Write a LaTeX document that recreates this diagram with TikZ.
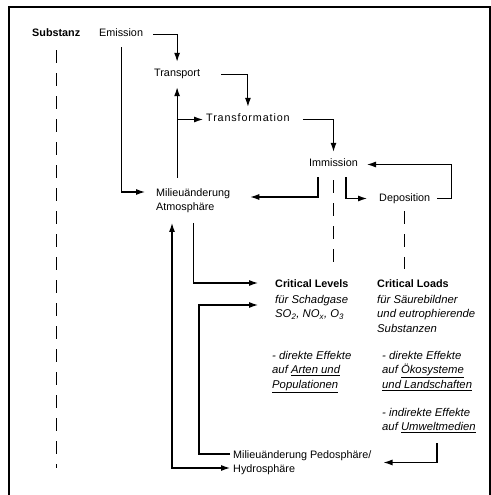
\documentclass[tikz,border=0pt]{standalone}
\usepackage{fontspec}
\setmainfont{Liberation Sans}
\usepackage{tikz}
\usetikzlibrary{arrows.meta}
\newcommand{\diagfont}{\fontsize{10.8bp}{14.5bp}\selectfont}
\newcommand{\diagitfont}{\fontsize{11.3bp}{14.5bp}\selectfont\itshape}

\begin{document}
\begin{tikzpicture}[x=1bp, y=-1bp,
    font=\diagfont,
    txt/.style={inner xsep=3bp, inner ysep=7bp, text height=8bp, text depth=3bp, anchor=base west},
    blk/.style={inner xsep=3bp, inner ysep=10bp, align=left, anchor=north west},
    arr/.style={-{Latex[length=9bp, width=6bp]}, line width=1.1bp},
    arrs/.style={{Latex[length=9bp, width=6bp]}-{Latex[length=9bp, width=6bp]}, line width=1.1bp},
    dsh/.style={dash pattern=on 13bp off 10bp, line width=1.1bp}
  ]
  \useasboundingbox (0,0) rectangle (491,495);
  \draw[line width=1.1bp] (9,495) -- (9,7) -- (490,7) -- (490,495);

  \node[txt, font=\diagfont\bfseries] (subst) at (29,37) {Substanz};
  \node[txt] (emis) at (96,37) {Emission};
  \node[txt] (transp) at (151,77) {Transport};
  \node[txt, font=\diagfont\addfontfeature{LetterSpace=8}] (transf) at (203,122) {Transformation};
  \node[txt] (immi) at (306,167) {Immission};
  \node[txt] (depo) at (376,201) {Deposition};
  \node[blk] (atmo) at (153,178) {Milieuänderung\\Atmosphäre};
  \node[blk] (crl) at (272,269) {\textbf{Critical Levels}\\[1.5bp]
    {\diagitfont für Schadgase}\\
    {\diagitfont SO\textsubscript{2}, NO\textsubscript{x}, O\textsubscript{3}}};
  \node[blk] (cld) at (374,269) {\textbf{Critical Loads}\\[1.5bp]
    {\diagitfont für Säurebildner}\\
    {\diagitfont und eutrophierende}\\
    {\diagitfont Substanzen}};
  \node[blk, font=\diagitfont] (eff1) at (269,341) {- direkte Effekte\\auf \underline{Arten und}\\\underline{Populationen}};
  \node[blk, font=\diagitfont] (eff2) at (379,341) {- direkte Effekte\\auf \underline{Ökosysteme}\\\underline{und Landschaften}};
  \node[blk, font=\diagitfont] (eff3) at (379,398) {- indirekte Effekte\\auf \underline{Umweltmedien}};
  \node[blk] (pedo) at (230,440) {Milieuänderung Pedosphäre/\\Hydrosphäre};

  \draw[arr, shorten <=7bp] (emis.east) -| (transp.north);
  \draw[arr, shorten <=18bp] (transp.east) -| (transf.north);
  \draw[arr, shorten <=10bp] (transf.east) -| (immi.north);
  \draw[arr] (emis.south) |- ([xshift=-8bp, yshift=-14bp]atmo.north west);
  \draw[arr] (atmo.north -| transp.south) -- (transp.south);
  \draw[arr] (transp.south |- transf.west) -- (transf.west);
  \draw[arr] ([xshift=12bp]immi.south west) |- ([xshift=17bp, yshift=-19bp]atmo.north east);
  \draw[arr] ([xshift=-15bp]immi.south east) |- ([xshift=-9bp]depo.west);
  \draw[arr, shorten <=4bp] (depo.east) -- ++(18,0) |- ([xshift=6bp]immi.east);
  \draw[dsh, shorten <=3bp] (immi.south) -- (immi.south |- crl.north);
  \draw[dsh] (depo.south) -- (depo.south |- cld.north);
  \draw[dsh, shorten <=3bp, shorten >=17bp] (subst.south) -- (subst.south |- pedo.south);
  \draw[arr] (atmo.south) |- ([xshift=-14bp, yshift=-14bp]crl.north west);
  \draw[arr] ([yshift=-14bp]pedo.north west) -- ++(-31,0) |- ([xshift=-14bp, yshift=-36bp]crl.north west);
  \draw[arrs] ([xshift=19bp]atmo.south west) |- ([yshift=-28bp]pedo.north west);
  \draw[arr] ([xshift=8bp]eff3.south) |- ([xshift=9bp]pedo.east);
\end{tikzpicture}
\end{document}
